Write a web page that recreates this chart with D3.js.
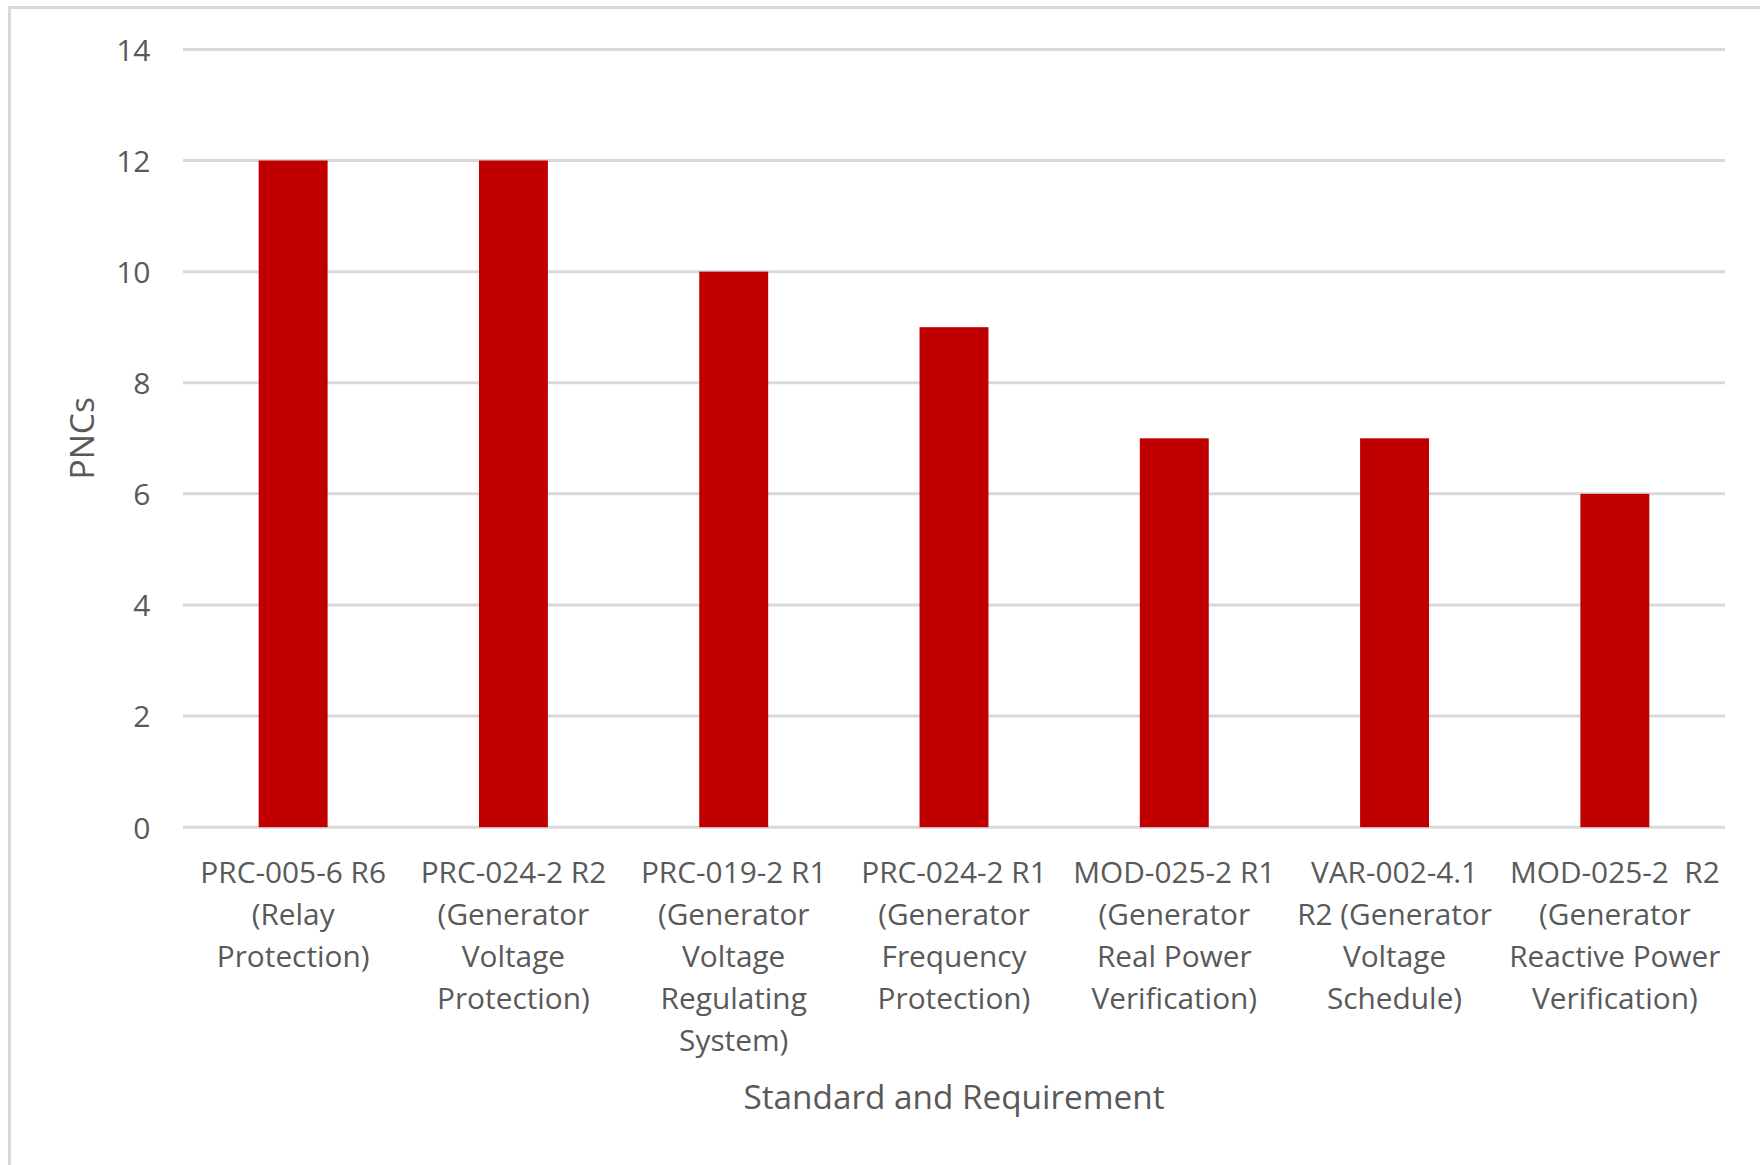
<!DOCTYPE html>
<html>
<head>
<meta charset="utf-8">
<script src="https://cdn.jsdelivr.net/npm/d3@7"></script>
<style>
  html, body { margin: 0; padding: 0; background: #fff; }
  svg { display: block; }
  text { font-family: "Open Sans", "Noto Sans", sans-serif; fill: #595959; white-space: pre; }
</style>
</head>
<body>
<svg id="chart" width="1760" height="1165"></svg>
<script>
// ---- data ----
const categories = [
  "PRC-005-6 R6 (Relay Protection)",
  "PRC-024-2 R2 (Generator Voltage Protection)",
  "PRC-019-2 R1 (Generator Voltage Regulating System)",
  "PRC-024-2 R1 (Generator Frequency Protection)",
  "MOD-025-2 R1 (Generator Real Power Verification)",
  "VAR-002-4.1 R2 (Generator Voltage Schedule)",
  "MOD-025-2  R2 (Generator Reactive Power Verification)"
];
const categoryLines = [
  ["PRC-005-6 R6", "(Relay", "Protection)"],
  ["PRC-024-2 R2", "(Generator", "Voltage", "Protection)"],
  ["PRC-019-2 R1", "(Generator", "Voltage", "Regulating", "System)"],
  ["PRC-024-2 R1", "(Generator", "Frequency", "Protection)"],
  ["MOD-025-2 R1", "(Generator", "Real Power", "Verification)"],
  ["VAR-002-4.1", "R2 (Generator", "Voltage", "Schedule)"],
  ["MOD-025-2  R2", "(Generator", "Reactive Power", "Verification)"]
];
const pncValues = [12, 12, 10, 9, 7, 7, 6];
const yTicks = [0, 2, 4, 6, 8, 10, 12, 14];
const xAxisTitle = "Standard and Requirement";
const yAxisTitle = "PNCs";

// ---- layout ----
const svg = d3.select("#chart");
const plotLeft = 183, plotRight = 1725, plotTop = 49.4, plotBottom = 827.2;

// chart border
svg.append("rect")
  .attr("x", 9.5).attr("y", 7.5)
  .attr("width", 1900).attr("height", 1300)
  .attr("fill", "none").attr("stroke", "#d9d9d9").attr("stroke-width", 3);

const x = d3.scaleBand()
  .domain(categories)
  .range([plotLeft, plotRight])
  .paddingInner(0.687)
  .paddingOuter(0.3435);

const y = d3.scaleLinear().domain([0, 14]).range([plotBottom, plotTop]);

// gridlines
svg.append("g").selectAll("line")
  .data(yTicks)
  .join("line")
  .attr("x1", plotLeft).attr("x2", plotRight)
  .attr("y1", d => y(d)).attr("y2", d => y(d))
  .attr("stroke", "#d9d9d9").attr("stroke-width", 3);

// y tick labels
const yAxis = d3.axisLeft(y).tickValues(yTicks).tickSize(0).tickPadding(0);
const yg = svg.append("g").attr("transform", `translate(150.5,0)`).call(yAxis);
yg.select(".domain").remove();
yg.selectAll("text")
  .attr("font-size", 30)
  .attr("font-family", "'Open Sans', sans-serif")
  .attr("fill", "#595959")
  .attr("dy", "0.36em");

// bars
svg.append("g").selectAll("rect")
  .data(pncValues)
  .join("rect")
  .attr("x", (d, i) => x(categories[i]))
  .attr("width", x.bandwidth())
  .attr("y", d => y(d))
  .attr("height", d => y(0) - y(d))
  .attr("fill", "#c00000");

// x category labels
const xl = svg.append("g");
categories.forEach((c, i) => {
  const cx = x(c) + x.bandwidth() / 2;
  const t = xl.append("text")
    .attr("text-anchor", "middle")
    .attr("font-size", 29.8)
    .attr("x", cx)
    .attr("y", 883);
  categoryLines[i].forEach((ln, j) => {
    t.append("tspan")
      .attr("x", cx)
      .attr("dy", j === 0 ? 0 : 42)
      .text(ln);
  });
});

// axis titles
svg.append("text")
  .attr("x", (plotLeft + plotRight) / 2)
  .attr("y", 1109)
  .attr("text-anchor", "middle")
  .attr("font-size", 33.3)
  .text(xAxisTitle);

svg.append("text")
  .attr("transform", `translate(94, ${(plotTop + plotBottom) / 2}) rotate(-90)`)
  .attr("text-anchor", "middle")
  .attr("font-size", 33.5)
  .text(yAxisTitle);
</script>
</body>
</html>
